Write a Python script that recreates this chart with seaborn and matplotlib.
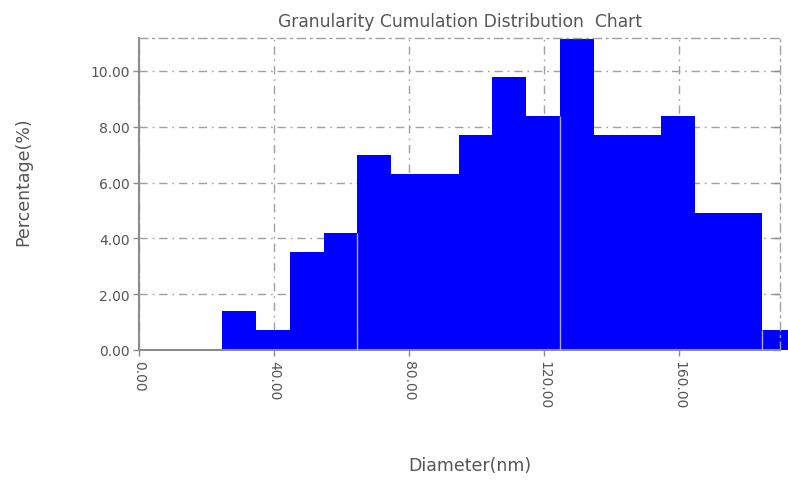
import numpy as np
import pandas as pd
import matplotlib
matplotlib.use("Agg")
import matplotlib.pyplot as plt
import matplotlib.lines as mlines
import seaborn as sns

# Data
bin_start = 24.6
bin_width = 10.0
percentages = [1.4, 0.7, 3.5, 4.2, 7.0, 6.3, 6.3, 7.7, 9.8, 8.4,
               11.15, 7.7, 7.7, 8.4, 4.9, 4.9, 0.7]
x_ticks = [0, 40, 80, 120, 160]
x_tick_labels = ["0.00", "40.00", "80.00", "120.00", "160.00"]
y_ticks = [0, 2, 4, 6, 8, 10]
y_tick_labels = ["0.00", "2.00", "4.00", "6.00", "8.00", "10.00"]
seam_bins = [4, 10, 16]  # bars preceded by a faint light seam

edges = [bin_start + bin_width * k for k in range(len(percentages) + 1)]
centers = [(edges[k] + edges[k + 1]) / 2 for k in range(len(percentages))]
df = pd.DataFrame({"diameter": centers, "pct": percentages})

sns.set_style("white")
plt.rcParams["font.family"] = ["DejaVu Sans"]

fig = plt.figure(figsize=(7.88, 4.81), dpi=100)
ax = fig.add_axes([0.177, 0.2703, 0.8128, 0.648])

sns.histplot(data=df, x="diameter", weights="pct", bins=edges,
             color="#0000ff", alpha=1, linewidth=0, element="bars",
             stat="count", ax=ax)
for p in ax.patches:
    p.set_clip_on(False)
    p.set_facecolor("#0000ff")

# faint seams between some bars
for i in seam_bins:
    ax.vlines(edges[i], 0, min(percentages[i - 1], percentages[i]),
              color="#a8a8ff", linewidth=1.0, zorder=5, clip_on=False)

ax.set_xlim(0, 189.8)
ax.set_ylim(0, 11.17)

dash = (0, (6, 3.5, 1.2, 3.5))
ax.grid(True, color="#a0a0a0", linewidth=1.0, linestyle=dash)
ax.set_axisbelow(True)

for side in ["left", "bottom"]:
    ax.spines[side].set_color("#8c8c8c")
    ax.spines[side].set_linewidth(1.5)
for side in ["top", "right"]:
    ax.spines[side].set_color("#a0a0a0")
    ax.spines[side].set_linewidth(1.0)
    ax.spines[side].set_linestyle(dash)

ax.set_xticks(x_ticks)
ax.set_xticklabels(x_tick_labels, rotation=-90, fontsize=10, color="#555555")
ax.set_yticks(y_ticks)
ax.set_yticklabels(y_tick_labels, fontsize=10, color="#555555")
ax.tick_params(axis="both", direction="out", length=4, width=1,
               color="#8c8c8c", pad=3, bottom=True, left=True)
ax.tick_params(axis="y", right=True)
for t in ax.yaxis.get_major_ticks():
    t.tick2line.set_marker(mlines.TICKLEFT)

ax.set_xlabel("Diameter(nm)", fontsize=12.5, color="#555555")
ax.set_ylabel("Percentage(%)", fontsize=12.5, color="#555555")
ax.xaxis.set_label_coords(0.516, -0.34)
ax.yaxis.set_label_coords(-0.168, 0.542)
ax.set_title("Granularity Cumulation Distribution  Chart", fontsize=12.3,
             color="#555555", pad=9)

fig.savefig("out.png", dpi=100)
